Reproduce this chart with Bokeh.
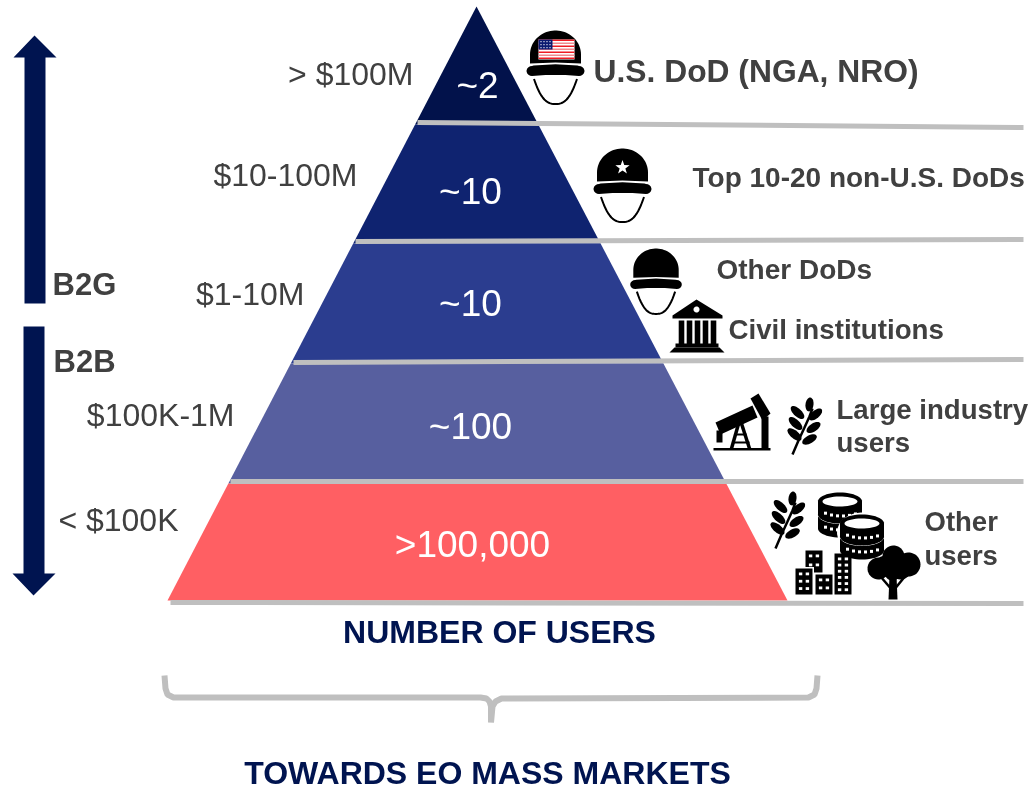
import numpy as np
from bokeh.plotting import figure
from bokeh.models import Range1d
from bokeh.core.properties import value
from bokeh.embed import file_html
from bokeh.resources import INLINE

# ---- content ----
tier_counts = ["~2", "~10", "~10", "~100", ">100,000"]
tier_prices = ["> $100M", "$10-100M", "$1-10M", "$100K-1M", "< $100K"]
tier_colors = ["#02124B", "#0F2370", "#2B3D8F", "#575F9F", "#FF5F63"]
tier_tops = [6, 124, 243, 363, 483]
tier_bottoms = [124, 243, 363, 483, 600]
apex_x = 476
base_left = 167
base_right = 787
base_y = 600
count_x = [477, 470, 470, 470, 472]
count_y = [85, 191, 303, 426, 544]
price_x = [413, 357, 304, 234, 178]
price_y = [73, 174, 293, 414, 519]
rule_x0 = [417, 355, 293, 230, 170]
rule_y0 = [122, 241, 362, 481, 602]
rule_y1 = [127, 239, 359, 481, 603]
rule_end = 1023
who_labels = ["U.S. DoD (NGA, NRO)", "Top 10-20 non-U.S. DoDs", "Other DoDs", "Civil institutions",
              "Large industry", "users", "Other", "users"]
who_x = [593, 692, 716, 728, 836, 836, 924, 924]
who_y = [70, 177, 269, 329, 409, 442, 521, 555]
who_size = [31.8, 28, 28, 27.7, 27.6, 27.6, 27.5, 27.5]
seg_labels = ["B2G", "B2B"]
seg_x = [52, 53]
seg_y = [284, 361]
bottom_labels = ["NUMBER OF USERS", "TOWARDS EO MASS MARKETS"]
bottom_x = [499, 487]
bottom_y = [631, 772]
NAVY = "#001450"
GREY = "#BFBFBF"
TEXT = "#404040"

p = figure(width=1033, height=790, output_backend="svg", toolbar_location=None,
           x_range=Range1d(0, 1033), y_range=Range1d(790, 0), min_border=0,
           styles={"position": "fixed", "left": "0px", "top": "0px"})
p.axis.visible = False
p.grid.visible = False
p.outline_line_color = None

def poly(xs, ys, color="black"):
    p.patch(list(xs), list(ys), fill_color=color, line_color=None)

def rrect(x0, y0, x1, y1, color="black"):
    poly([x0, x1, x1, x0], [y0, y0, y1, y1], color)

def ell(cx, cy, rx, ry, color="black"):
    t = np.linspace(0, 2 * np.pi, 40)
    poly(cx + rx * np.cos(t), cy + ry * np.sin(t), color)

# ---- pyramid ----
slope_l = (apex_x - base_left) / (base_y - tier_tops[0])
slope_r = (base_right - apex_x) / (base_y - tier_tops[0])
for top, bot, col in zip(tier_tops, tier_bottoms, tier_colors):
    xs = [apex_x - slope_l * (top - 6), apex_x + slope_r * (top - 6),
          apex_x + slope_r * (bot - 6), apex_x - slope_l * (bot - 6)]
    poly(xs, [top, top, bot, bot], col)
for x0, y0, y1 in zip(rule_x0, rule_y0, rule_y1):
    p.line([x0, rule_end], [y0, y1], line_color=GREY, line_width=5)

font = value("Liberation Sans")
p.text(count_x, count_y, text=tier_counts, text_color="white", text_font=font, text_font_size="37px",
       text_align="center", text_baseline="middle")
p.text(price_x, price_y, text=tier_prices, text_color=TEXT, text_font=font, text_font_size="32px",
       text_align="right", text_baseline="middle")
for t, x, y, s in zip(who_labels, who_x, who_y, who_size):
    p.text([x], [y], text=[t], text_color=TEXT, text_font=font, text_font_size=f"{s}px",
           text_font_style="bold", text_baseline="middle")
p.text(seg_x, seg_y, text=seg_labels, text_color=TEXT, text_font=font, text_font_size="31px",
       text_font_style="bold", text_baseline="middle")
p.text(bottom_x, bottom_y, text=bottom_labels, text_color=NAVY, text_font=font, text_font_size="32px",
       text_font_style="bold", text_align="center", text_baseline="middle")

# ---- segment arrows ----
poly([34, 56, 45, 45, 24, 24, 13], [35, 57, 57, 303, 303, 57, 57], NAVY)
poly([33, 55, 44, 44, 23, 23, 12], [595, 573, 573, 326, 326, 573, 573], NAVY)

# ---- brace ----
bx = [164, 165, 167, 173, 480, 486, 489, 490.5, 490.5, 492, 495, 501, 808, 814, 816, 817]
by = [675, 688, 694, 697, 697, 698, 701, 706, 722, 706, 701, 698, 697, 694, 688, 675]
p.line(bx, by, line_color=GREY, line_width=6)

# ---- icons ----
def helmet(cx, top, sc=1.0, star=False):
    t = np.linspace(np.pi, 2 * np.pi, 40)
    dx = 25.5 * sc * np.cos(t)
    dy = top + 24 * sc + 24 * sc * np.sin(t)
    poly(list(cx + dx) + [cx + 25.5 * sc, cx, cx - 25.5 * sc],
         list(dy) + [top + 33 * sc, top + 32 * sc, top + 33 * sc])
    # brim: rounded bar with a slightly arched top
    a = np.linspace(-np.pi / 2, np.pi / 2, 10)
    ex_r = cx + 23.5 * sc + 5.5 * sc * np.cos(a)
    ey_r = top + 40.5 * sc + 5 * sc * np.sin(a)
    ex_l = cx - 23.5 * sc - 5.5 * sc * np.cos(a[::-1])
    ey_l = top + 40.5 * sc + 5 * sc * np.sin(a[::-1])
    poly(list(ex_r) + [cx + 10 * sc, cx - 10 * sc] + list(ex_l) + [cx - 22 * sc, cx, cx + 22 * sc],
         list(ey_r) + [top + 44.5 * sc, top + 44.5 * sc] + list(ey_l) + [top + 35 * sc, top + 33.8 * sc, top + 35 * sc])
    s = np.linspace(-1, 1, 30)
    sx = cx + 21.5 * sc * s
    sy = top + 73.5 * sc - 25 * sc * np.abs(s) ** 2.6
    p.line(list(sx), list(sy), line_color="black", line_width=2)
    if star:
        a = np.arange(10) * np.pi / 5 - np.pi / 2
        r = np.where(np.arange(10) % 2 == 0, 7.5, 3)
        poly(cx + r * np.cos(a), top + 19 + r * np.sin(a), "white")

helmet(555, 30)
helmet(622, 148, star=True)
helmet(655.5, 248, sc=0.89)

# flag
rrect(538, 39, 574, 59, "white")
for i in range(7):
    rrect(538, 39 + i * 3, 574, 39 + i * 3 + 1.5, "#EE1C25" if i % 2 == 0 else "#F08A8E")
rrect(538, 39, 552, 49, "#0A1A70")
for i in range(4):
    for j in range(3):
        rrect(540 + i * 3, 40.5 + j * 3, 541 + i * 3, 41.8 + j * 3, "white")

# temple
poly([696, 722, 722, 672, 672], [299, 315, 318, 318, 315])
ell(696, 309, 3, 3, "white")
for cxx in [681, 689, 697, 705, 713]:
    rrect(cxx - 2.8, 320, cxx + 2.8, 344)
rrect(675, 343, 718, 347)
poly([674, 719, 724, 669], [347, 347, 352, 352])

# oil pump
rrect(713, 447.5, 770, 450)
poly([750, 758, 770, 762], [398, 393, 413, 420])
poly([715, 752, 757, 720], [422, 405, 417, 434])
rrect(716, 430, 722, 442)
rrect(761, 416, 768, 448)
p.line([739, 731], [420, 448], line_color="black", line_width=3.5)
p.line([740, 749], [420, 448], line_color="black", line_width=3.5)
p.line([734, 746], [434, 434], line_color="black", line_width=2)
p.line([732, 749], [442, 442], line_color="black", line_width=2)

def wheat(x, y):
    p.line([x, x + 6, x + 12, x + 17, x + 20], [y, y - 14, y - 27, y - 38, y - 46],
           line_color="black", line_width=2.5)
    leaves = [(5, -42, 8.5, 0.75), (3, -31, 8.5, 0.75), (2, -20, 8.5, 0.7),
              (23, -40, 8, -0.7), (21, -27, 8, -0.6), (17, -15, 8, -0.5),
              (17, -50, 7, -1.45)]
    for lx, ly, ra, rot in leaves:
        t = np.linspace(0, 2 * np.pi, 30)
        a = ra * np.cos(t)
        b = 4.0 * np.sin(t)
        c, s = np.cos(rot), np.sin(rot)
        poly(x + lx + (a * c - b * s), y + ly + (a * s + b * c))

wheat(792, 454)
wheat(775, 548)

def coin_stack(cx, top, rx=22, ry=9):
    for k in [1, 0]:
        yy = top + k * 14
        ang = np.linspace(0, np.pi, 25)
        ang2 = np.linspace(np.pi, 2 * np.pi, 25)
        poly(list(cx + rx * np.cos(ang)) + list(cx + rx * np.cos(ang2)),
             list(yy + 13 + ry * np.sin(ang)) + list(yy + ry * np.sin(ang2)))
        for d in [-16, -10, -4, 2, 8, 14]:
            off = ry * np.sqrt(max(1 - (d / rx) ** 2, 0)) + 4
            rrect(cx + d, yy + off, cx + d + 3, yy + off + 3, "white")
        if k == 1:
            ang3 = np.linspace(0, np.pi, 20)
            p.line(list(cx + rx * np.cos(ang3)), list(yy + ry * np.sin(ang3) - 1),
                   line_color="white", line_width=1)
    ell(cx, top, rx - 4.5, ry - 4, "white")

coin_stack(839.5, 501)
ell(861.5, 532, 25, 20, "white")
coin_stack(861.5, 523, 22, 9)

# city
def building(x0, y0, x1, y1, cols, rows, halo=False):
    if halo:
        rrect(x0 - 1.5, y0 - 1.5, x1 + 1.5, y1, "white")
    rrect(x0, y0, x1, y1)
    w = (x1 - x0) / (cols * 2 + 1)
    gap = (y1 - y0 - 4) / rows
    for c in range(cols):
        for r in range(rows):
            xx = x0 + w * (2 * c + 1)
            yy = y0 + 4 + r * gap
            rrect(xx, yy, xx + w, yy + 2.8, "white")

building(805, 550, 822, 572, 2, 2)
building(795, 568, 812, 594, 2, 3, halo=True)
building(815, 574, 832, 594, 2, 2, halo=True)
building(834, 553, 851, 594, 2, 6)

# tree
for cx_, cy_, r_ in [(893, 556, 11), (878, 568, 11), (908, 564, 12), (885, 565, 10), (900, 568, 11), (892, 572, 8)]:
    ell(cx_, cy_, r_, r_)
poly([889, 896, 897, 888], [575, 575, 599, 599])
p.line([892, 880], [590, 576], line_color="black", line_width=2.5)
p.line([893, 906], [590, 574], line_color="black", line_width=2.5)

open("out.html", "w").write(file_html(p, INLINE))
